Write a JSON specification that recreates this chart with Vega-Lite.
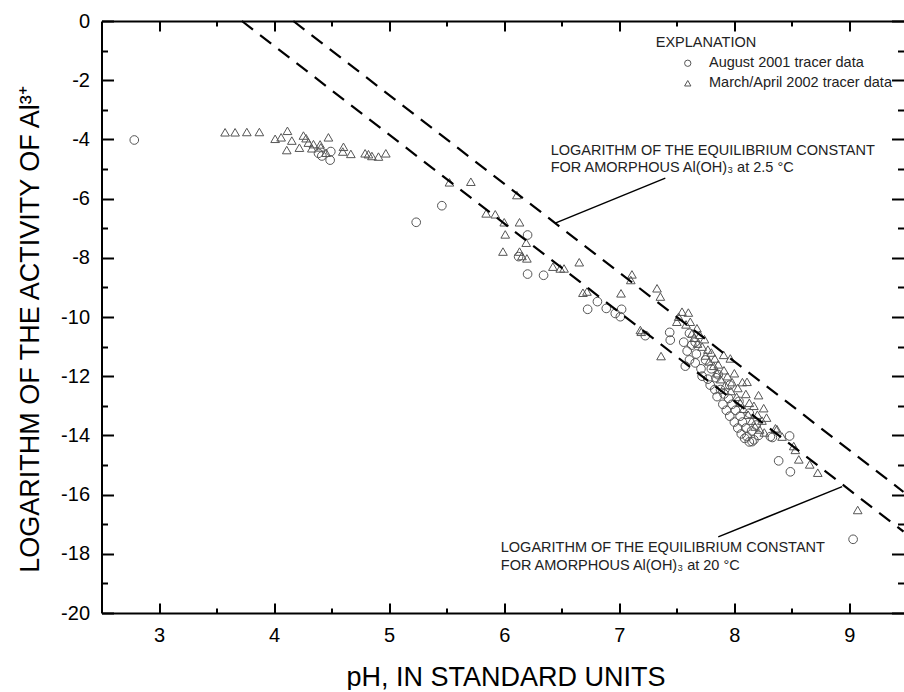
{
  "$schema": "https://vega.github.io/schema/vega-lite/v6.json",
  "width": 802,
  "height": 592,
  "padding": {"left": 16.5, "top": 11, "right": 0, "bottom": 0},
  "config": {
    "view": {"stroke": null},
    "font": "Liberation Sans",
    "axis": {"grid": false, "domainColor": "black", "tickColor": "black", "labelColor": "black", "titleColor": "black", "titleFontWeight": "normal", "domainWidth": 2}
  },
  "datasets": {
    "points": [
      {"ph": 2.785, "logal": -4.02, "series": "August 2001 tracer data"},
      {"ph": 4.386, "logal": -4.47, "series": "August 2001 tracer data"},
      {"ph": 4.415, "logal": -4.56, "series": "August 2001 tracer data"},
      {"ph": 4.487, "logal": -4.70, "series": "August 2001 tracer data"},
      {"ph": 4.493, "logal": -4.41, "series": "August 2001 tracer data"},
      {"ph": 5.235, "logal": -6.80, "series": "August 2001 tracer data"},
      {"ph": 5.458, "logal": -6.24, "series": "August 2001 tracer data"},
      {"ph": 6.203, "logal": -7.23, "series": "August 2001 tracer data"},
      {"ph": 6.125, "logal": -7.96, "series": "August 2001 tracer data"},
      {"ph": 6.203, "logal": -8.55, "series": "August 2001 tracer data"},
      {"ph": 6.342, "logal": -8.59, "series": "August 2001 tracer data"},
      {"ph": 6.725, "logal": -9.74, "series": "August 2001 tracer data"},
      {"ph": 6.81, "logal": -9.48, "series": "August 2001 tracer data"},
      {"ph": 6.887, "logal": -9.71, "series": "August 2001 tracer data"},
      {"ph": 6.965, "logal": -9.88, "series": "August 2001 tracer data"},
      {"ph": 7.02, "logal": -9.74, "series": "August 2001 tracer data"},
      {"ph": 7.009, "logal": -9.99, "series": "August 2001 tracer data"},
      {"ph": 7.226, "logal": -10.63, "series": "August 2001 tracer data"},
      {"ph": 7.438, "logal": -10.52, "series": "August 2001 tracer data"},
      {"ph": 7.443, "logal": -10.78, "series": "August 2001 tracer data"},
      {"ph": 7.574, "logal": -11.66, "series": "August 2001 tracer data"},
      {"ph": 7.56, "logal": -10.85, "series": "August 2001 tracer data"},
      {"ph": 7.59, "logal": -11.15, "series": "August 2001 tracer data"},
      {"ph": 7.61, "logal": -11.45, "series": "August 2001 tracer data"},
      {"ph": 7.63, "logal": -10.95, "series": "August 2001 tracer data"},
      {"ph": 7.66, "logal": -11.55, "series": "August 2001 tracer data"},
      {"ph": 7.67, "logal": -11.25, "series": "August 2001 tracer data"},
      {"ph": 7.71, "logal": -11.75, "series": "August 2001 tracer data"},
      {"ph": 7.72, "logal": -12.0, "series": "August 2001 tracer data"},
      {"ph": 7.75, "logal": -11.45, "series": "August 2001 tracer data"},
      {"ph": 7.77, "logal": -12.1, "series": "August 2001 tracer data"},
      {"ph": 7.79, "logal": -12.3, "series": "August 2001 tracer data"},
      {"ph": 7.80, "logal": -11.75, "series": "August 2001 tracer data"},
      {"ph": 7.83, "logal": -12.45, "series": "August 2001 tracer data"},
      {"ph": 7.84, "logal": -12.05, "series": "August 2001 tracer data"},
      {"ph": 7.85, "logal": -12.69, "series": "August 2001 tracer data"},
      {"ph": 7.88, "logal": -12.45, "series": "August 2001 tracer data"},
      {"ph": 7.90, "logal": -12.95, "series": "August 2001 tracer data"},
      {"ph": 7.91, "logal": -12.6, "series": "August 2001 tracer data"},
      {"ph": 7.93, "logal": -13.15, "series": "August 2001 tracer data"},
      {"ph": 7.95, "logal": -12.75, "series": "August 2001 tracer data"},
      {"ph": 7.96, "logal": -13.35, "series": "August 2001 tracer data"},
      {"ph": 7.98, "logal": -12.95, "series": "August 2001 tracer data"},
      {"ph": 8.00, "logal": -13.55, "series": "August 2001 tracer data"},
      {"ph": 8.01, "logal": -13.15, "series": "August 2001 tracer data"},
      {"ph": 8.03, "logal": -13.75, "series": "August 2001 tracer data"},
      {"ph": 8.05, "logal": -13.35, "series": "August 2001 tracer data"},
      {"ph": 8.06, "logal": -13.95, "series": "August 2001 tracer data"},
      {"ph": 8.07, "logal": -13.55, "series": "August 2001 tracer data"},
      {"ph": 8.09, "logal": -14.1, "series": "August 2001 tracer data"},
      {"ph": 8.10, "logal": -13.75, "series": "August 2001 tracer data"},
      {"ph": 8.11, "logal": -14.04, "series": "August 2001 tracer data"},
      {"ph": 8.13, "logal": -14.22, "series": "August 2001 tracer data"},
      {"ph": 8.15, "logal": -13.85, "series": "August 2001 tracer data"},
      {"ph": 8.154, "logal": -14.21, "series": "August 2001 tracer data"},
      {"ph": 8.17, "logal": -14.15, "series": "August 2001 tracer data"},
      {"ph": 8.19, "logal": -13.65, "series": "August 2001 tracer data"},
      {"ph": 8.21, "logal": -14.0, "series": "August 2001 tracer data"},
      {"ph": 7.61, "logal": -10.55, "series": "August 2001 tracer data"},
      {"ph": 7.66, "logal": -10.85, "series": "August 2001 tracer data"},
      {"ph": 7.86, "logal": -11.95, "series": "August 2001 tracer data"},
      {"ph": 7.96, "logal": -12.3, "series": "August 2001 tracer data"},
      {"ph": 8.04, "logal": -12.85, "series": "August 2001 tracer data"},
      {"ph": 8.13, "logal": -13.25, "series": "August 2001 tracer data"},
      {"ph": 8.313, "logal": -14.04, "series": "August 2001 tracer data"},
      {"ph": 8.33, "logal": -14.07, "series": "August 2001 tracer data"},
      {"ph": 8.48, "logal": -14.02, "series": "August 2001 tracer data"},
      {"ph": 8.385, "logal": -14.86, "series": "August 2001 tracer data"},
      {"ph": 8.487, "logal": -15.23, "series": "August 2001 tracer data"},
      {"ph": 9.032, "logal": -17.51, "series": "August 2001 tracer data"},
      {"ph": 3.574, "logal": -3.76, "series": "March/April 2002 tracer data"},
      {"ph": 3.661, "logal": -3.76, "series": "March/April 2002 tracer data"},
      {"ph": 3.763, "logal": -3.75, "series": "March/April 2002 tracer data"},
      {"ph": 3.872, "logal": -3.75, "series": "March/April 2002 tracer data"},
      {"ph": 4.009, "logal": -3.98, "series": "March/April 2002 tracer data"},
      {"ph": 4.061, "logal": -3.93, "series": "March/April 2002 tracer data"},
      {"ph": 4.116, "logal": -3.71, "series": "March/April 2002 tracer data"},
      {"ph": 4.154, "logal": -4.04, "series": "March/April 2002 tracer data"},
      {"ph": 4.11, "logal": -4.36, "series": "March/April 2002 tracer data"},
      {"ph": 4.22, "logal": -4.28, "series": "March/April 2002 tracer data"},
      {"ph": 4.255, "logal": -3.87, "series": "March/April 2002 tracer data"},
      {"ph": 4.278, "logal": -3.96, "series": "March/April 2002 tracer data"},
      {"ph": 4.298, "logal": -4.11, "series": "March/April 2002 tracer data"},
      {"ph": 4.342, "logal": -4.16, "series": "March/April 2002 tracer data"},
      {"ph": 4.328, "logal": -4.30, "series": "March/April 2002 tracer data"},
      {"ph": 4.40, "logal": -4.17, "series": "March/April 2002 tracer data"},
      {"ph": 4.406, "logal": -4.27, "series": "March/April 2002 tracer data"},
      {"ph": 4.452, "logal": -4.45, "series": "March/April 2002 tracer data"},
      {"ph": 4.472, "logal": -3.93, "series": "March/April 2002 tracer data"},
      {"ph": 4.603, "logal": -4.25, "series": "March/April 2002 tracer data"},
      {"ph": 4.597, "logal": -4.41, "series": "March/April 2002 tracer data"},
      {"ph": 4.667, "logal": -4.49, "series": "March/April 2002 tracer data"},
      {"ph": 4.791, "logal": -4.47, "series": "March/April 2002 tracer data"},
      {"ph": 4.82, "logal": -4.50, "series": "March/April 2002 tracer data"},
      {"ph": 4.85, "logal": -4.56, "series": "March/April 2002 tracer data"},
      {"ph": 4.907, "logal": -4.58, "series": "March/April 2002 tracer data"},
      {"ph": 4.971, "logal": -4.47, "series": "March/April 2002 tracer data"},
      {"ph": 5.524, "logal": -5.45, "series": "March/April 2002 tracer data"},
      {"ph": 5.71, "logal": -5.43, "series": "March/April 2002 tracer data"},
      {"ph": 6.11, "logal": -5.88, "series": "March/April 2002 tracer data"},
      {"ph": 5.843, "logal": -6.50, "series": "March/April 2002 tracer data"},
      {"ph": 5.922, "logal": -6.53, "series": "March/April 2002 tracer data"},
      {"ph": 6.0, "logal": -6.80, "series": "March/April 2002 tracer data"},
      {"ph": 6.133, "logal": -6.80, "series": "March/April 2002 tracer data"},
      {"ph": 6.009, "logal": -7.21, "series": "March/April 2002 tracer data"},
      {"ph": 6.191, "logal": -7.49, "series": "March/April 2002 tracer data"},
      {"ph": 5.989, "logal": -7.79, "series": "March/April 2002 tracer data"},
      {"ph": 6.133, "logal": -7.79, "series": "March/April 2002 tracer data"},
      {"ph": 6.154, "logal": -7.94, "series": "March/April 2002 tracer data"},
      {"ph": 6.197, "logal": -8.02, "series": "March/April 2002 tracer data"},
      {"ph": 6.423, "logal": -8.30, "series": "March/April 2002 tracer data"},
      {"ph": 6.487, "logal": -8.36, "series": "March/April 2002 tracer data"},
      {"ph": 6.52, "logal": -8.36, "series": "March/April 2002 tracer data"},
      {"ph": 6.652, "logal": -8.15, "series": "March/April 2002 tracer data"},
      {"ph": 6.684, "logal": -9.18, "series": "March/April 2002 tracer data"},
      {"ph": 6.719, "logal": -9.14, "series": "March/April 2002 tracer data"},
      {"ph": 7.015, "logal": -9.20, "series": "March/April 2002 tracer data"},
      {"ph": 7.11, "logal": -8.56, "series": "March/April 2002 tracer data"},
      {"ph": 7.10, "logal": -8.75, "series": "March/April 2002 tracer data"},
      {"ph": 7.328, "logal": -9.03, "series": "March/April 2002 tracer data"},
      {"ph": 7.357, "logal": -9.31, "series": "March/April 2002 tracer data"},
      {"ph": 7.183, "logal": -10.44, "series": "March/April 2002 tracer data"},
      {"ph": 7.191, "logal": -10.50, "series": "March/April 2002 tracer data"},
      {"ph": 7.363, "logal": -11.32, "series": "March/April 2002 tracer data"},
      {"ph": 7.545, "logal": -9.82, "series": "March/April 2002 tracer data"},
      {"ph": 7.516, "logal": -9.99, "series": "March/April 2002 tracer data"},
      {"ph": 7.50, "logal": -10.16, "series": "March/April 2002 tracer data"},
      {"ph": 7.58, "logal": -10.25, "series": "March/April 2002 tracer data"},
      {"ph": 7.60, "logal": -9.85, "series": "March/April 2002 tracer data"},
      {"ph": 7.617, "logal": -10.16, "series": "March/April 2002 tracer data"},
      {"ph": 7.632, "logal": -10.55, "series": "March/April 2002 tracer data"},
      {"ph": 7.65, "logal": -10.7, "series": "March/April 2002 tracer data"},
      {"ph": 7.675, "logal": -10.38, "series": "March/April 2002 tracer data"},
      {"ph": 7.68, "logal": -10.9, "series": "March/April 2002 tracer data"},
      {"ph": 7.70, "logal": -10.6, "series": "March/April 2002 tracer data"},
      {"ph": 7.72, "logal": -11.0, "series": "March/April 2002 tracer data"},
      {"ph": 7.74, "logal": -10.75, "series": "March/April 2002 tracer data"},
      {"ph": 7.75, "logal": -11.3, "series": "March/April 2002 tracer data"},
      {"ph": 7.77, "logal": -11.1, "series": "March/April 2002 tracer data"},
      {"ph": 7.78, "logal": -11.5, "series": "March/April 2002 tracer data"},
      {"ph": 7.80, "logal": -11.2, "series": "March/April 2002 tracer data"},
      {"ph": 7.82, "logal": -11.65, "series": "March/April 2002 tracer data"},
      {"ph": 7.83, "logal": -11.4, "series": "March/April 2002 tracer data"},
      {"ph": 7.85, "logal": -11.9, "series": "March/April 2002 tracer data"},
      {"ph": 7.86, "logal": -11.6, "series": "March/April 2002 tracer data"},
      {"ph": 7.88, "logal": -12.1, "series": "March/April 2002 tracer data"},
      {"ph": 7.907, "logal": -11.28, "series": "March/April 2002 tracer data"},
      {"ph": 7.91, "logal": -11.8, "series": "March/April 2002 tracer data"},
      {"ph": 7.92, "logal": -12.3, "series": "March/April 2002 tracer data"},
      {"ph": 7.94, "logal": -12.0, "series": "March/April 2002 tracer data"},
      {"ph": 7.965, "logal": -11.40, "series": "March/April 2002 tracer data"},
      {"ph": 7.97, "logal": -12.5, "series": "March/April 2002 tracer data"},
      {"ph": 7.98, "logal": -12.2, "series": "March/April 2002 tracer data"},
      {"ph": 8.00, "logal": -11.9, "series": "March/April 2002 tracer data"},
      {"ph": 8.02, "logal": -12.7, "series": "March/April 2002 tracer data"},
      {"ph": 8.03, "logal": -12.4, "series": "March/April 2002 tracer data"},
      {"ph": 8.05, "logal": -12.9, "series": "March/April 2002 tracer data"},
      {"ph": 8.07, "logal": -12.2, "series": "March/April 2002 tracer data"},
      {"ph": 8.08, "logal": -13.1, "series": "March/April 2002 tracer data"},
      {"ph": 8.10, "logal": -12.6, "series": "March/April 2002 tracer data"},
      {"ph": 8.11, "logal": -12.19, "series": "March/April 2002 tracer data"},
      {"ph": 8.12, "logal": -13.3, "series": "March/April 2002 tracer data"},
      {"ph": 8.13, "logal": -12.9, "series": "March/April 2002 tracer data"},
      {"ph": 8.15, "logal": -13.5, "series": "March/April 2002 tracer data"},
      {"ph": 8.17, "logal": -13.0, "series": "March/April 2002 tracer data"},
      {"ph": 8.18, "logal": -13.7, "series": "March/April 2002 tracer data"},
      {"ph": 8.20, "logal": -13.3, "series": "March/April 2002 tracer data"},
      {"ph": 8.21, "logal": -12.64, "series": "March/April 2002 tracer data"},
      {"ph": 8.22, "logal": -13.8, "series": "March/April 2002 tracer data"},
      {"ph": 8.24, "logal": -13.5, "series": "March/April 2002 tracer data"},
      {"ph": 8.255, "logal": -13.08, "series": "March/April 2002 tracer data"},
      {"ph": 8.26, "logal": -13.9, "series": "March/April 2002 tracer data"},
      {"ph": 8.28, "logal": -13.4, "series": "March/April 2002 tracer data"},
      {"ph": 8.357, "logal": -13.76, "series": "March/April 2002 tracer data"},
      {"ph": 8.37, "logal": -13.79, "series": "March/April 2002 tracer data"},
      {"ph": 8.415, "logal": -14.04, "series": "March/April 2002 tracer data"},
      {"ph": 8.516, "logal": -14.36, "series": "March/April 2002 tracer data"},
      {"ph": 8.53, "logal": -14.49, "series": "March/April 2002 tracer data"},
      {"ph": 8.56, "logal": -14.81, "series": "March/April 2002 tracer data"},
      {"ph": 8.655, "logal": -14.98, "series": "March/April 2002 tracer data"},
      {"ph": 8.725, "logal": -15.26, "series": "March/April 2002 tracer data"},
      {"ph": 9.072, "logal": -16.52, "series": "March/April 2002 tracer data"}
    ],
    "lines": [
      {"ph": 3.72, "logal": 0.0, "line": "20 C"},
      {"ph": 9.47, "logal": -17.25, "line": "20 C"},
      {"ph": 4.167, "logal": 0.0, "line": "2.5 C"},
      {"ph": 9.47, "logal": -15.91, "line": "2.5 C"}
    ],
    "leaders": [
      {"ph": 7.40, "logal": -5.31, "id": "a"},
      {"ph": 6.443, "logal": -6.83, "id": "a"},
      {"ph": 7.86, "logal": -17.43, "id": "b"},
      {"ph": 8.937, "logal": -15.73, "id": "b"}
    ],
    "notes": [
      {"ph": 6.404, "logal": -4.39, "label": "LOGARITHM OF THE EQUILIBRIUM CONSTANT"},
      {"ph": 6.404, "logal": -4.97, "label": "FOR AMORPHOUS Al(OH)₃ at 2.5 °C"},
      {"ph": 5.97, "logal": -17.80, "label": "LOGARITHM OF THE EQUILIBRIUM CONSTANT"},
      {"ph": 5.97, "logal": -18.40, "label": "FOR AMORPHOUS Al(OH)₃ at 20 °C"},
      {"ph": 7.317, "logal": -0.76, "label": "EXPLANATION"}
    ]
  },
  "resolve": {"axis": {"x": "independent", "y": "independent"}},
  "layer": [
    {
      "data": {"name": "points"},
      "mark": {"type": "point", "filled": false, "color": "#555555", "strokeWidth": 1, "size": 75, "opacity": 1},
      "encoding": {
        "x": {"field": "ph", "type": "quantitative", "scale": {"domain": [2.5, 9.47], "nice": false, "zero": false},
          "axis": {"orient": "bottom", "values": [3, 4, 5, 6, 7, 8, 9], "format": "d", "tickSize": -10, "tickWidth": 2, "labelPadding": 22, "labelFontSize": 20,
            "title": "pH, IN STANDARD UNITS", "titleFontSize": 27, "titleX": 404, "titleY": 64, "titleBaseline": "middle", "titleAlign": "center"}},
        "y": {"field": "logal", "type": "quantitative", "scale": {"domain": [-20, 0], "nice": false, "zero": false},
          "axis": {"orient": "left", "values": [0, -2, -4, -6, -8, -10, -12, -14, -16, -18, -20], "labelExpr": "'' + datum.value", "tickSize": -12, "tickWidth": 2, "labelPadding": 24, "labelFontSize": 20,
            "title": "LOGARITHM OF THE ACTIVITY OF Al³⁺", "titleFontSize": 27, "titleAngle": -90, "titleX": -71, "titleY": 308, "titleBaseline": "middle", "titleAlign": "center"}},
        "shape": {"field": "series", "type": "nominal",
          "scale": {"domain": ["August 2001 tracer data", "March/April 2002 tracer data"], "range": ["circle", "triangle-up"]},
          "legend": {"orient": "none", "legendX": 579, "legendY": 35, "title": null, "padding": 0, "labelFontSize": 14.5, "labelLimit": 400, "labelColor": "#222222", "labelFont": "Liberation Sans", "symbolSize": 40, "symbolStrokeWidth": 1, "symbolStrokeColor": "#555555", "labelOffset": 14, "rowPadding": 5}}
      }
    },
    {
      "data": {"name": "lines"},
      "mark": {"type": "line", "color": "black", "strokeWidth": 2.2, "strokeDash": [14, 9]},
      "encoding": {
        "x": {"field": "ph", "type": "quantitative", "scale": {"domain": [2.5, 9.47], "nice": false, "zero": false},
          "axis": {"orient": "top", "values": [3, 4, 5, 6, 7, 8, 9], "tickSize": -10, "tickWidth": 2, "labels": false, "title": null}},
        "y": {"field": "logal", "type": "quantitative", "scale": {"domain": [-20, 0], "nice": false, "zero": false},
          "axis": {"orient": "right", "values": [0, -2, -4, -6, -8, -10, -12, -14, -16, -18, -20], "tickSize": -12, "tickWidth": 2, "labels": false, "title": null, "domain": false}},
        "detail": {"field": "line", "type": "nominal"}
      }
    },
    {
      "data": {"name": "leaders"},
      "mark": {"type": "line", "color": "black", "strokeWidth": 1.5},
      "encoding": {
        "x": {"field": "ph", "type": "quantitative", "scale": {"domain": [2.5, 9.47], "nice": false, "zero": false},
          "axis": {"orient": "bottom", "values": [3.5, 4.5, 5.5, 6.5, 7.5, 8.5], "tickSize": -5, "tickWidth": 2, "labels": false, "title": null, "domain": false}},
        "y": {"field": "logal", "type": "quantitative", "scale": {"domain": [-20, 0], "nice": false, "zero": false},
          "axis": {"orient": "left", "values": [-1, -3, -5, -7, -9, -11, -13, -15, -17, -19], "tickSize": -6, "tickWidth": 2, "labels": false, "title": null, "domain": false}},
        "detail": {"field": "id", "type": "nominal"}
      }
    },
    {
      "data": {"name": "notes"},
      "mark": {"type": "text", "align": "left", "baseline": "middle", "fontSize": 14.5, "color": "#222222", "font": "Liberation Sans"},
      "encoding": {
        "x": {"field": "ph", "type": "quantitative", "scale": {"domain": [2.5, 9.47], "nice": false, "zero": false},
          "axis": {"orient": "top", "values": [3.5, 4.5, 5.5, 6.5, 7.5, 8.5], "tickSize": -5, "tickWidth": 2, "labels": false, "title": null, "domain": false}},
        "y": {"field": "logal", "type": "quantitative", "scale": {"domain": [-20, 0], "nice": false, "zero": false},
          "axis": {"orient": "right", "values": [-1, -3, -5, -7, -9, -11, -13, -15, -17, -19], "tickSize": -6, "tickWidth": 2, "labels": false, "title": null, "domain": false}},
        "text": {"field": "label", "type": "nominal"}
      }
    }
  ]
}
